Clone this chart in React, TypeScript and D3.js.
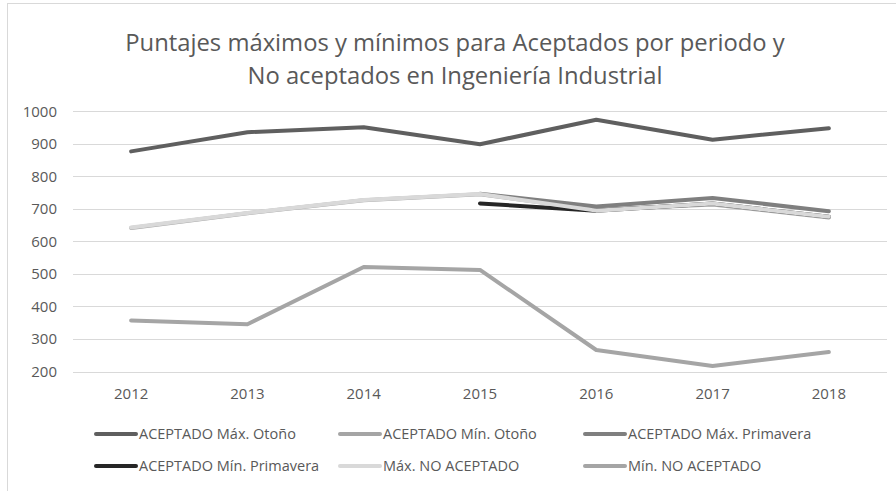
import * as d3 from "d3";
import React, { useEffect, useRef } from "react";

// chart values
const years = ["2012", "2013", "2014", "2015", "2016", "2017", "2018"];
const maxOtono = [876, 935, 950, 898, 973, 912, 947];
const minOtono = [641, 686, 726, 744, 697, 713, 673];
const maxPrimavera = [null, null, null, 746, 707, 733, 692];
const minPrimavera = [null, null, null, 716, 694, 716, 675];
const maxNoAceptado = [642, 687, 727, 745, 694, 716, 675];
const minNoAceptado = [357, 345, 521, 512, 266, 217, 260];
const yTicks = [200, 300, 400, 500, 600, 700, 800, 900, 1000];

const seriesNames = [
  "ACEPTADO Máx. Otoño",
  "ACEPTADO Mín. Otoño",
  "ACEPTADO Máx. Primavera",
  "ACEPTADO Mín. Primavera",
  "Máx. NO ACEPTADO",
  "Mín. NO ACEPTADO",
];
const seriesValues = [maxOtono, minOtono, maxPrimavera, minPrimavera, maxNoAceptado, minNoAceptado];
const seriesColors = ["#5f5f5f", "#a5a5a5", "#7f7f7f", "#262626", "#d9d9d9", "#a5a5a5"];

const width = 896;
const height = 491;

export default function App() {
  const svgRef = useRef<SVGSVGElement>(null);

  useEffect(() => {
    document.body.style.margin = "0";
    const svg = d3.select(svgRef.current);
    svg.selectAll("*").remove();

    const font = "'Open Sans', sans-serif";
    const textColor = "#595959";

    // chart border
    svg.append("rect")
      .attr("x", 7.5).attr("y", 3.5)
      .attr("width", 900).attr("height", 500)
      .attr("fill", "white")
      .attr("stroke", "#d9d9d9")
      .attr("stroke-width", 1);

    // title
    const title = svg.append("text")
      .attr("text-anchor", "middle")
      .attr("fill", textColor)
      .style("font-family", font)
      .style("font-size", "23.8px");
    title.append("tspan").attr("x", 455).attr("y", 51).text("Puntajes máximos y mínimos para Aceptados por periodo y");
    title.append("tspan").attr("x", 455).attr("y", 84).text("No aceptados en Ingeniería Industrial");

    const x = d3.scaleBand().domain(years).range([73, 887]);
    const y = d3.scaleLinear().domain([200, 1000]).range([371.5, 111]);
    const cx = (d: string) => (x(d) as number) + x.bandwidth() / 2;

    // gridlines
    svg.append("g")
      .selectAll("line")
      .data(yTicks)
      .enter()
      .append("line")
      .attr("x1", 73).attr("x2", 887)
      .attr("y1", (d) => Math.round(y(d)) + 0.5)
      .attr("y2", (d) => Math.round(y(d)) + 0.5)
      .attr("stroke", "#d9d9d9")
      .attr("stroke-width", 1);

    // y labels
    svg.append("g")
      .selectAll("text")
      .data(yTicks)
      .enter()
      .append("text")
      .attr("x", 57)
      .attr("y", (d) => y(d) + 5.5)
      .attr("text-anchor", "end")
      .attr("fill", textColor)
      .style("font-family", font)
      .style("font-size", "15px")
      .text((d) => d);

    // x labels
    svg.append("g")
      .selectAll("text")
      .data(years)
      .enter()
      .append("text")
      .attr("x", (d) => cx(d))
      .attr("y", 398.5)
      .attr("text-anchor", "middle")
      .attr("fill", textColor)
      .style("font-family", font)
      .style("font-size", "15px")
      .text((d) => d);

    // lines
    const line = d3.line<number | null>()
      .defined((d) => d !== null)
      .x((d, i) => cx(years[i]))
      .y((d) => y(d as number));

    seriesValues.forEach((vals, i) => {
      svg.append("path")
        .datum(vals)
        .attr("d", line)
        .attr("fill", "none")
        .attr("stroke", seriesColors[i])
        .attr("stroke-width", 4)
        .attr("stroke-linejoin", "round")
        .attr("stroke-linecap", "round");
    });

    // legend
    const colX = [96, 340, 585];
    const rowY = [434, 466];
    seriesNames.forEach((name, i) => {
      const lx = colX[i % 3];
      const ly = rowY[Math.floor(i / 3)];
      svg.append("line")
        .attr("x1", lx).attr("x2", lx + 40)
        .attr("y1", ly).attr("y2", ly)
        .attr("stroke", seriesColors[i])
        .attr("stroke-width", 4)
        .attr("stroke-linecap", "round");
      svg.append("text")
        .attr("x", lx + 43)
        .attr("y", ly + 5)
        .attr("fill", textColor)
        .style("font-family", font)
        .style("font-size", "14.5px")
        .text(name);
    });
  }, []);

  return <svg ref={svgRef} width={width} height={height} style={{ display: "block" }}></svg>;
}
